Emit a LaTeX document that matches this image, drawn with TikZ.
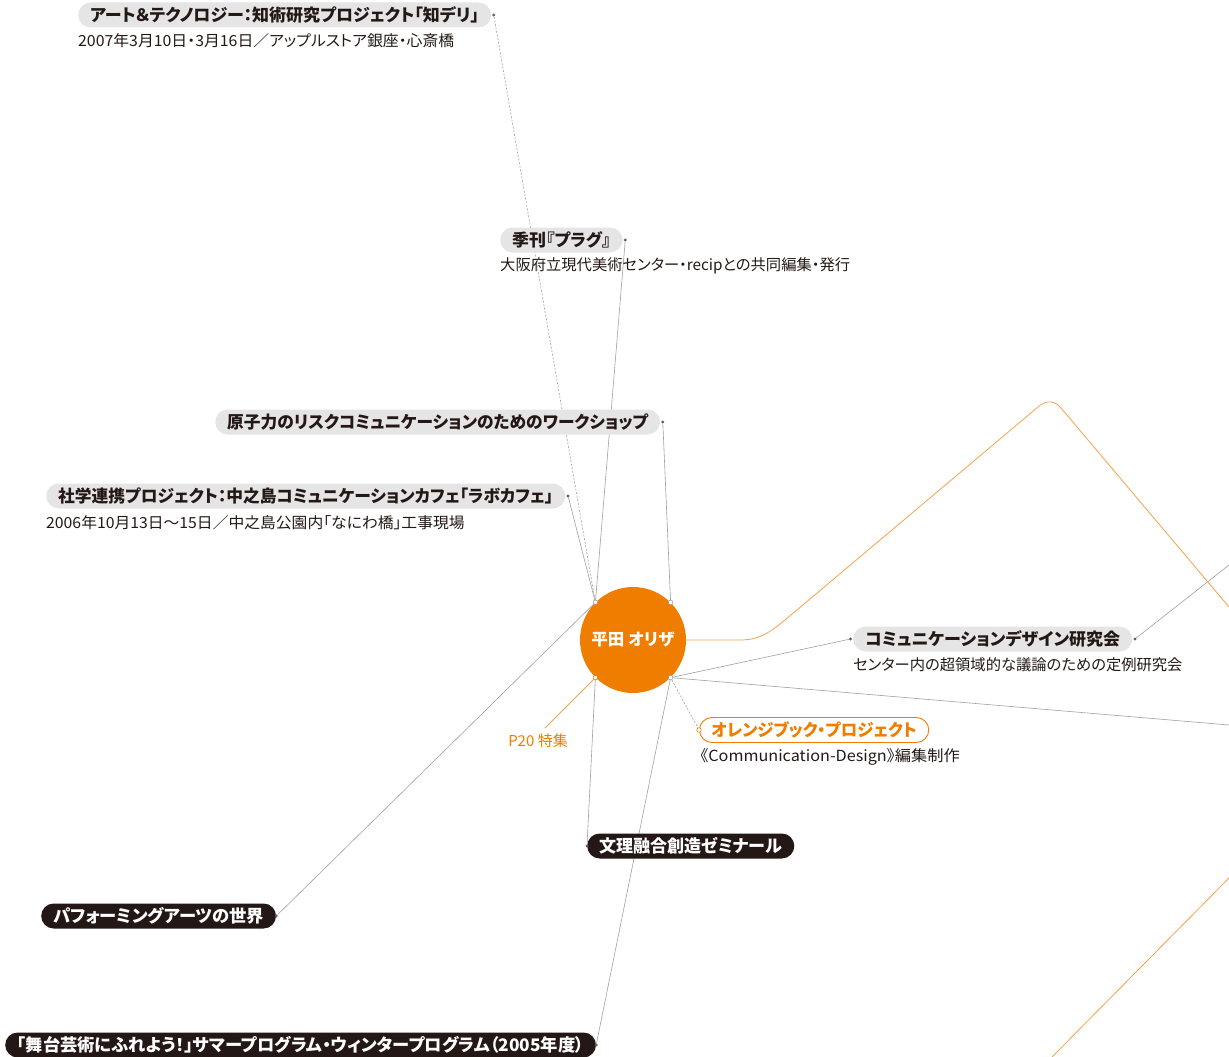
\documentclass[tikz,border=0pt]{standalone}
\usepackage{fontspec}
\newfontfamily\jp[RawFeature=+palt]{Noto Sans CJK JP}
\usetikzlibrary{calc,backgrounds}
\definecolor{org}{HTML}{EE7D00}
\definecolor{orgl}{HTML}{F5A24A}
\definecolor{ink}{HTML}{231815}
\definecolor{pillg}{HTML}{E5E5E5}
\definecolor{lineg}{HTML}{A0A0A0}
\definecolor{dotg}{HTML}{606060}
\newcommand{\hsq}[2]{\scalebox{#1}[1]{#2}}
\tikzset{
 pillbase/.style={rounded corners=12.5pt, minimum height=25pt, inner xsep=12pt, inner ysep=0pt, font={\jp\bfseries\fontsize{17}{19}\selectfont}},
 graypill/.style={pillbase, fill=pillg, text=ink},
 darkpill/.style={pillbase, fill=ink, text=white, font={\jp\bfseries\fontsize{17.3}{19}\selectfont}},
 orangepill/.style={pillbase, draw=org, line width=0.9pt, fill=white, text=org},
 subtext/.style={anchor=west, inner sep=0pt, text=ink, font={\jp\fontsize{15.3}{17}\selectfont}},
 dotnode/.style={circle, fill=dotg, inner sep=0pt, minimum size=3.2pt},
 portnode/.style={circle, draw=lineg, fill=white, inner sep=0pt, minimum size=4.5pt, line width=0.6pt},
 oportnode/.style={circle, draw=org, fill=white, inner sep=0pt, minimum size=4.5pt, line width=0.6pt},
 link/.style={draw=lineg, line width=0.6pt},
 dlink/.style={link, dash pattern=on 2pt off 1.6pt},
 olink/.style={draw=orgl, line width=0.8pt},
}
\begin{document}
\begin{tikzpicture}[x=1pt,y=-1pt]
\useasboundingbox (0,0) rectangle (1229,1057);

% central node
\node[circle, fill=org, minimum size=106pt, inner sep=0pt, text=white, font={\jp\bfseries\fontsize{16.5}{18}\selectfont}] (c) at (633,640) {平田 オリザ};
\node[portnode] (ul) at (c.135) {};
\node[portnode] (ur) at (c.45) {};
\node[oportnode] (ll) at (c.-135) {};
\node[portnode] (lr) at (c.-45) {};

% gray pills
\node[graypill, anchor=west] (p1) at (78,15) {アート＆テクノロジー：知術研究プロジェクト「知デリ」};
\node[subtext] (s1) at (78,41) {\hsq{1.036}{2007年3月10日・3月16日／アップルストア銀座・心斎橋}};
\node[dotnode] (d1) at ($(p1.east)+(2.5,0)$) {};

\node[graypill, anchor=west] (p2) at (500,240) {季刊『プラグ』};
\node[subtext] (s2) at (500,266) {大阪府立現代美術センター・recipとの共同編集・発行};
\node[dotnode] (d2) at ($(p2.east)+(2.5,0)$) {};

\node[graypill, anchor=west] (p3) at (215,422) {\hsq{0.984}{原子力のリスクコミュニケーションのためのワークショップ}};
\node[dotnode] (d3) at ($(p3.east)+(2.5,0)$) {};

\node[graypill, anchor=west] (p4) at (46,496) {\hsq{0.985}{社学連携プロジェクト：中之島コミュニケーションカフェ「ラボカフェ」}};
\node[subtext] (s4) at (46,523) {\hsq{1.032}{2006年10月13日〜15日／中之島公園内「なにわ橋」工事現場}};
\node[dotnode] (d4) at ($(p4.east)+(2.5,0)$) {};

\node[graypill, anchor=west] (p5) at (853,639) {コミュニケーションデザイン研究会};
\node[subtext] (s5) at (853,665) {センター内の超領域的な議論のための定例研究会};
\node[dotnode] (d5l) at ($(p5.west)+(-2.5,0)$) {};
\node[dotnode] (d5r) at ($(p5.east)+(2.5,0)$) {};

% orange pill
\node[orangepill, anchor=west] (p6) at (699,730) {\hsq{0.97}{オレンジブック・プロジェクト}};
\node[subtext] (s6) at (700,757) {\hsq{1.06}{《Communication-Design》編集制作}};
\node[oportnode] (d6) at (p6.west) {};

% dark pills
\node[darkpill, anchor=west] (p7) at (587,846) {\hsq{0.985}{文理融合創造ゼミナール}};
\node[dotnode] (d7) at (p7.west) {};

\node[darkpill, anchor=west] (p8) at (41,916) {パフォーミングアーツの世界};
\node[dotnode] (d8) at (p8.east) {};

\node[darkpill, anchor=west] (p9) at (5,1045) {「舞台芸術にふれよう！」サマープログラム・ウィンタープログラム（2005年度）};
\node[dotnode] (d9) at (p9.east) {};

% P20 label
\node[inner sep=0pt, text=org, font={\jp\fontsize{15}{17}\selectfont}] (p20) at (538,741) {P20 特集};
\coordinate (p20end) at (545,728);

% free ends
\coordinate (e1) at (1229,565);
\coordinate (e2) at (1229,725);

\begin{scope}[on background layer]
\draw[dlink] (d1) -- (ul);
\draw[link] (d2) -- (ul);
\draw[link] (d4) -- (ul);
\draw[link] (d8) -- (ul);
\draw[link] (d3) -- (ur);
\draw[link] (d7) -- (ll);
\draw[link] (d9) -- (lr);
\draw[link] (d5l) -- (lr);
\draw[link] (lr) -- (e2);
\draw[link] (d5r) -- (e1);
\draw[dlink] (lr) -- (d6);
\draw[olink] (ll) -- (p20end);
\draw[olink] (c.east) -- (740,640) .. controls (760,640) and (770,632) .. (785,620) -- (1038,407) .. controls (1046,400) and (1054,400) .. (1061,408) -- (1229,607);
\draw[olink] (1052,1057) -- (1229,878);
\end{scope}
\end{tikzpicture}
\end{document}
